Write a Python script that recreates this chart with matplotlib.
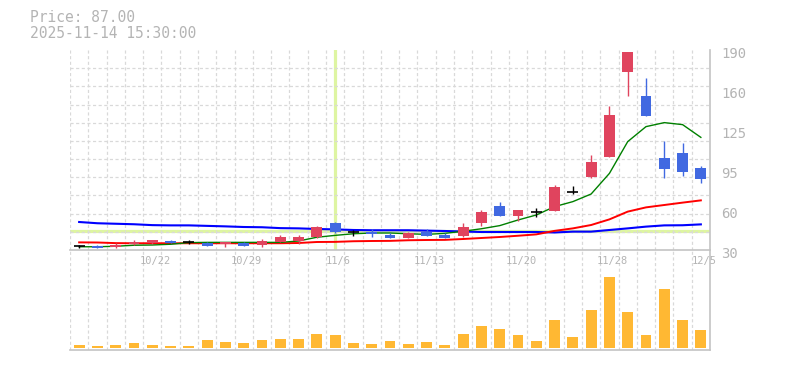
import numpy as np
import matplotlib
matplotlib.use("Agg")
import matplotlib.pyplot as plt
from matplotlib.transforms import ScaledTranslation

# daily OHLC (35 trading days)
opens = [33, 33, 32.4, 34.8, 35.4, 37.5, 36.1, 35.9, 35, 35.6,
         33.8, 36.4, 37.5, 40.4, 51.6, 44.1, 44.6, 42, 39.8, 44.5,
         41.7, 41.2, 51.8, 65.2, 57.4, 60.4, 61.4, 76.1, 88.7, 104.7,
         172.7, 153.2, 103.6, 107.6, 95.6]
highs = [34.2, 34, 35.8, 38.2, 38.4, 38.2, 37.7, 36.2, 36.4, 36.4,
         38.5, 42.3, 42.3, 49.2, 52.4, 46.2, 46.8, 43.6, 44.4, 47,
         43.6, 51.6, 62, 68.4, 62, 63.9, 82.3, 81, 106, 145.2,
         188.4, 167.6, 117.2, 115.6, 97.2]
lows = [31.6, 31.9, 31.6, 33.8, 35.2, 35.9, 34.5, 33.5, 32.7, 33.5,
        32.7, 36.4, 35, 39.6, 43.6, 41, 40.6, 39.8, 39.8, 41.4,
        39.6, 40.4, 49.2, 57.4, 53.4, 56.6, 61.4, 75, 87.9, 104.7,
        153.4, 137.4, 87.9, 89.4, 83.8]
closes = [33, 31.9, 34.2, 36.4, 38.2, 35.9, 36.1, 33.5, 36.4, 33.5,
          37.2, 40.4, 40.4, 48.4, 44.6, 44.1, 43, 39.8, 43.6, 41.4,
          39.6, 48.4, 60.4, 57.4, 62, 60.4, 80.4, 76.1, 100.4, 138,
          188.4, 137.4, 95, 92.6, 87]
volume = [9, 6, 9, 15, 9, 6, 6, 24, 18, 15,
          24, 27, 27, 42, 39, 15, 12, 21, 12, 18,
          9, 42, 66, 57, 39, 21, 84, 33, 114, 213,
          108, 39, 177, 84, 54]

# moving averages
ma_short = [32.6, 32.6, 33, 33.8, 34, 34.6, 35.9, 36.1, 36.1, 36.1,
            36.1, 36.1, 37.2, 40.2, 41.7, 43, 43.6, 43.6, 43, 42.5,
            43.3, 45, 47, 49.5, 54, 58, 64.7, 68.7, 74.8, 91.3,
            116.7, 128.7, 131.9, 130.3, 120.1]
ma_mid = [36.1, 36.0, 35.5, 35.4, 35.4, 35.4, 35.4, 35.4, 35.4, 35.4,
          35.4, 35.4, 35.6, 36.4, 36.5, 37.0, 37.2, 37.3, 37.8, 38.0,
          38.1, 38.8, 39.6, 40.4, 41.4, 42.5, 45.3, 47.3, 50, 54.5,
          60.7, 64.1, 66, 67.9, 69.7]
ma_long = [52.4, 51.4, 51.0, 50.6, 49.9, 49.7, 49.7, 49.3, 48.9, 48.4,
           48.2, 47.5, 47.3, 46.8, 46.5, 46.0, 45.8, 45.8, 45.8, 45.5,
           45.2, 44.8, 44.4, 44.4, 44.4, 44.4, 44.0, 44.7, 44.7, 46.0,
           47.3, 48.7, 49.7, 49.8, 50.5]

date_pos = [4, 9, 14, 19, 24, 29, 34]
date_labels = ["10/22", "10/29", "11/6", "11/13", "11/20", "11/28", "12/5"]
price_ticks = ["30", "60", "95", "125", "160", "190"]
cursor_price = 45
cursor_day = 14

red = "#e0445e"
blue = "#4169e1"
grid_c = "#d9d9d9"
text_c = "#b4b4b4"
mono = "DejaVu Sans Mono"

fig = plt.figure(figsize=(7.85, 3.7), dpi=100)
ax = fig.add_axes([70 / 785, 1 - 250 / 370, 640 / 785, 200 / 370])
axv = fig.add_axes([70 / 785, 1 - 350 / 370, 640 / 785, 100 / 370])

x = np.arange(len(closes))
o = np.array(opens)
c = np.array(closes)
h = np.array(highs)
l = np.array(lows)

colors = []
for oo, cc in zip(o, c):
    if cc > oo:
        colors.append(red)
    elif cc < oo:
        colors.append(blue)
    else:
        colors.append("black")

# crosshair
ax.axhline(cursor_price, color="#def5a2", lw=2.3, zorder=1)
ax.axvline(cursor_day, color="#def5a2", lw=2.3, zorder=1)

ax.plot(x, ma_long, color="#0000ff", lw=1.5, zorder=2)
ax.plot(x, ma_mid, color="#ff0000", lw=1.4, zorder=2)
ax.plot(x, ma_short, color="#008000", lw=1.0, zorder=2)

ax.vlines(x, l, h, colors=colors, lw=1, zorder=3)
body = np.abs(c - o)
ax.bar(x, np.where(body == 0, 0, body), bottom=np.minimum(o, c), width=0.6,
       color=colors, zorder=4)
doji = c == o
ax.hlines(o[doji], x[doji] - 0.3, x[doji] + 0.3, colors="black", lw=1.2, zorder=4)

ax.set_xlim(-0.5, len(x) - 0.5)
ax.set_ylim(30, 190)
ax.set_yticks(np.linspace(30, 190, 6))
ax.set_yticklabels(price_ticks)
ax.set_yticks(np.linspace(30, 190, 12), minor=True)
ax.set_xticks(date_pos)
ax.set_xticklabels(date_labels)
ax.set_xticks(np.arange(-0.5, len(x) - 0.5, 1), minor=True)
ax.yaxis.tick_right()
ax.tick_params(axis="y", which="both", length=0, pad=8, labelsize=10,
               labelcolor=text_c, labelfontfamily=mono)
ax.tick_params(axis="x", which="both", length=0, pad=4, labelsize=7.5,
               labelcolor=text_c, labelfontfamily=mono)
for t in ax.get_yticklabels():
    t.set_transform(t.get_transform() + ScaledTranslation(0, -3 / 100, fig.dpi_scale_trans))
for t in ax.get_xticklabels():
    t.set_transform(t.get_transform() + ScaledTranslation(3 / 100, 0, fig.dpi_scale_trans))
ax.grid(False, which="major")
ax.grid(True, which="minor", color=grid_c, ls=(0, (2.5, 2)), lw=0.9)
for s in ["top", "left"]:
    ax.spines[s].set_visible(False)
for s in ["right", "bottom"]:
    ax.spines[s].set_color("#c4c4c4")
    ax.spines[s].set_linewidth(1.2)
ax.set_zorder(2)
ax.patch.set_alpha(0)

# volume
axv.bar(x, volume, width=0.6, color="#ffb833")
axv.set_xlim(-0.5, len(x) - 0.5)
axv.set_ylim(-6, 294)
axv.set_xticks([])
axv.set_yticks([])
axv.set_xticks(np.arange(-0.5, len(x) - 0.5, 1), minor=True)
axv.tick_params(which="both", length=0, labelbottom=False)
axv.grid(True, axis="x", which="minor", color=grid_c, ls=(0, (2.5, 2)), lw=0.9)
for s in ["top", "left"]:
    axv.spines[s].set_visible(False)
for s in ["right", "bottom"]:
    axv.spines[s].set_color("#c4c4c4")
    axv.spines[s].set_linewidth(1.2)

fig.text(30 / 785, 1 - 18 / 370, "Price: 87.00", fontsize=10.5, family=mono,
         color=text_c, va="center")
fig.text(30 / 785, 1 - 33 / 370, "2025-11-14 15:30:00", fontsize=10.5, family=mono,
         color=text_c, va="center")

fig.savefig("out.png", dpi=100)
